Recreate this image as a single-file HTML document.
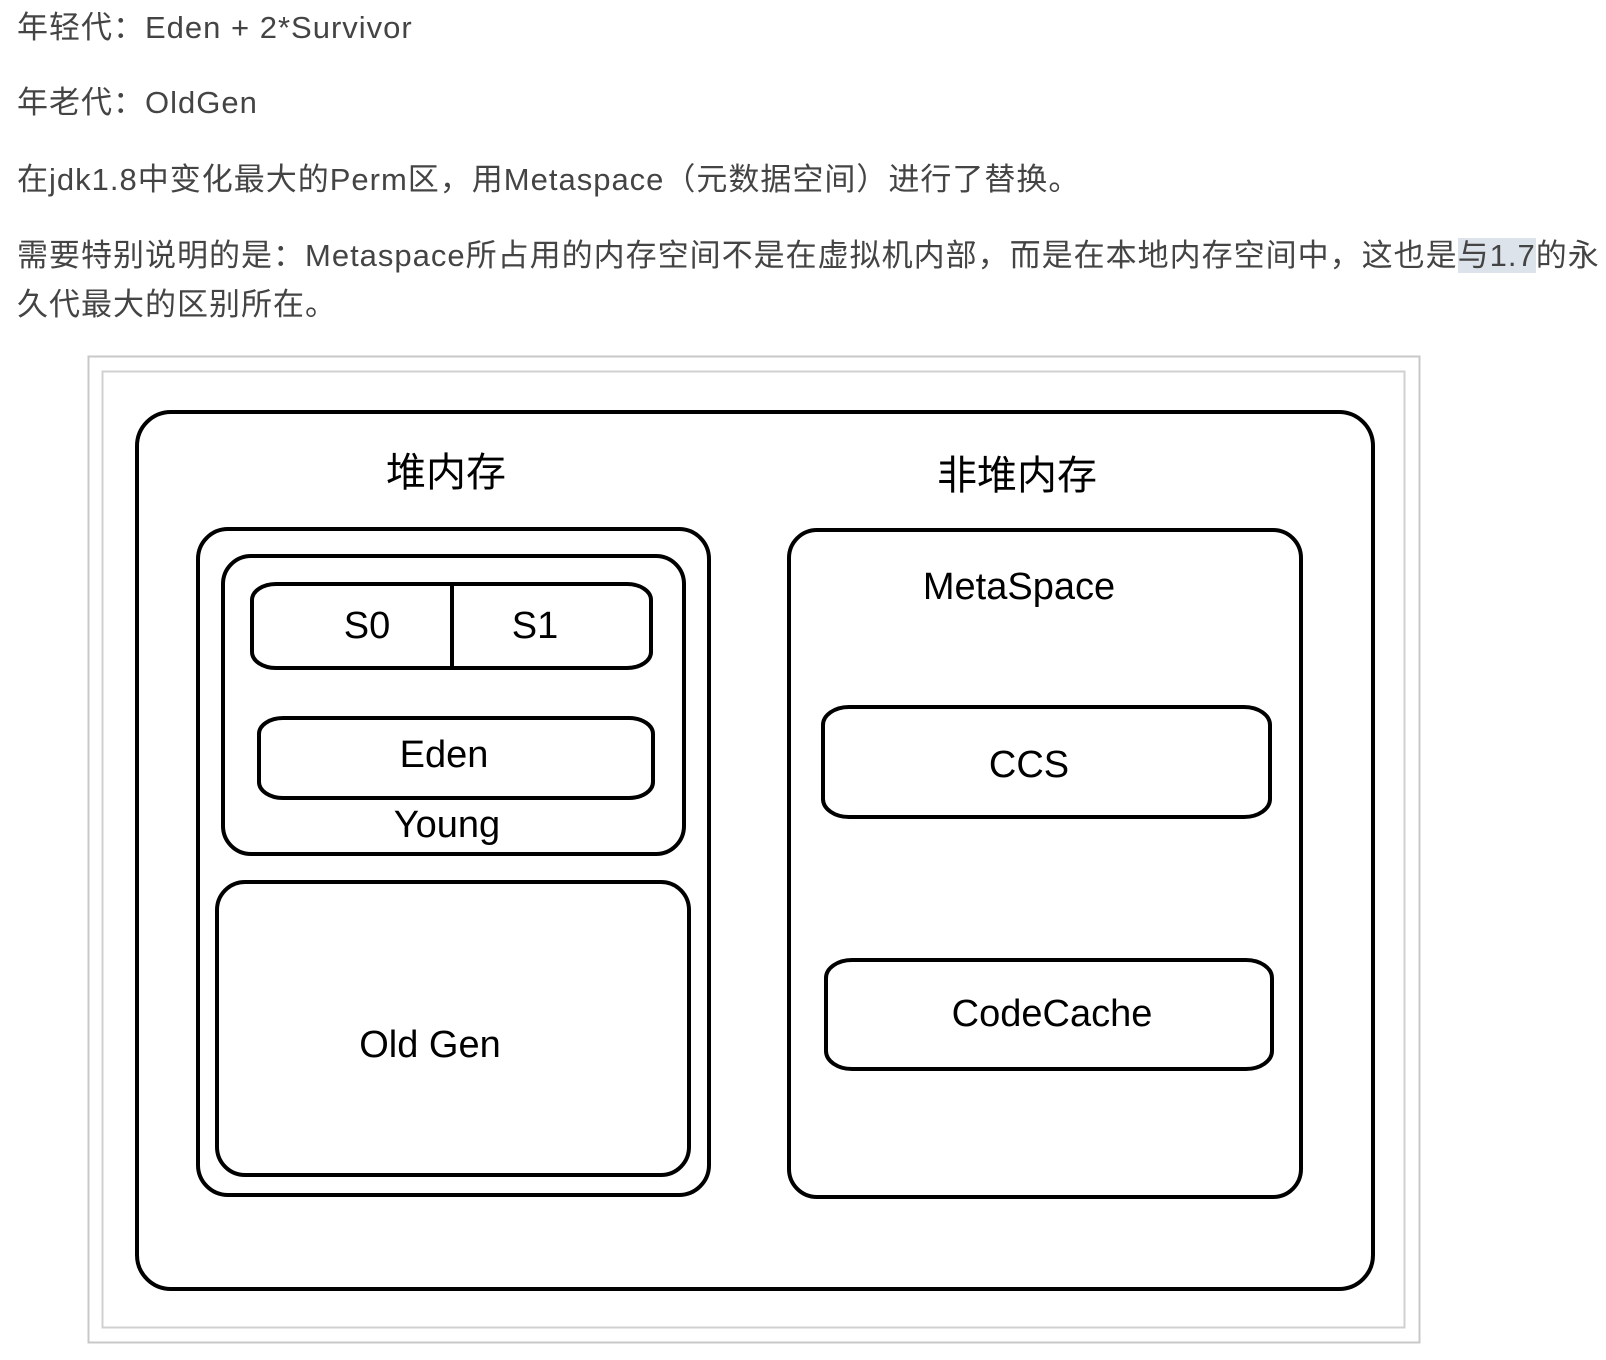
<!DOCTYPE html>
<html><head><meta charset="utf-8"><style>
html,body{margin:0;padding:0;background:#fff;width:1606px;height:1360px;overflow:hidden;}
.t{position:absolute;left:17px;font-family:"Liberation Sans","Noto Sans CJK SC",sans-serif;font-size:31px;letter-spacing:1px;color:#444;white-space:nowrap;line-height:40px;}
.hl{background:#dde3ea;}
svg{position:absolute;left:0;top:0;}
svg text{font-family:"Liberation Sans","Noto Sans CJK SC",sans-serif;fill:#000;text-anchor:middle;dominant-baseline:central;}
</style></head><body>
<div class="t" style="top:8px">年轻代：Eden + 2*Survivor</div>
<div class="t" style="top:83px">年老代：OldGen</div>
<div class="t" style="top:160px">在jdk1.8中变化最大的Perm区，用Metaspace（元数据空间）进行了替换。</div>
<div class="t" style="top:236px">需要特别说明的是：Metaspace所占用的内存空间不是在虚拟机内部，而是在本地内存空间中，这也是<span class="hl">与1.7</span>的永</div>
<div class="t" style="top:285px">久代最大的区别所在。</div>
<svg width="1606" height="1360" viewBox="0 0 1606 1360">
<rect x="88.5" y="356.5" width="1331" height="986" fill="#fff" stroke="#c8c8c8" stroke-width="2"/>
<rect x="102.5" y="371.5" width="1302" height="956" fill="none" stroke="#d0d0d0" stroke-width="2"/>
<g fill="none" stroke="#000" stroke-width="4">
<rect x="137" y="412" width="1236" height="877" rx="34"/>
<rect x="198" y="529" width="511" height="666" rx="30"/>
<rect x="223" y="556" width="461" height="298" rx="28"/>
<rect x="252" y="584" width="399" height="84" rx="24" ry="16"/>
<line x1="452" y1="582" x2="452" y2="670"/>
<rect x="259" y="718" width="394" height="80" rx="24" ry="16"/>
<rect x="217" y="882" width="472" height="293" rx="28"/>
<rect x="789" y="530" width="512" height="667" rx="28"/>
<rect x="823" y="707" width="447" height="110" rx="26" ry="18"/>
<rect x="826" y="960" width="446" height="109" rx="26" ry="18"/>
</g>
<text x="446" y="473" font-size="40">堆内存</text>
<text x="1017" y="476" font-size="40">非堆内存</text>
<text x="367" y="626" font-size="38">S0</text>
<text x="535" y="626" font-size="38">S1</text>
<text x="444" y="755" font-size="38">Eden</text>
<text x="447" y="825" font-size="38">Young</text>
<text x="430" y="1045" font-size="38">Old Gen</text>
<text x="1019" y="587" font-size="38">MetaSpace</text>
<text x="1029" y="765" font-size="38">CCS</text>
<text x="1052" y="1014" font-size="38">CodeCache</text>
</svg>
</body></html>
